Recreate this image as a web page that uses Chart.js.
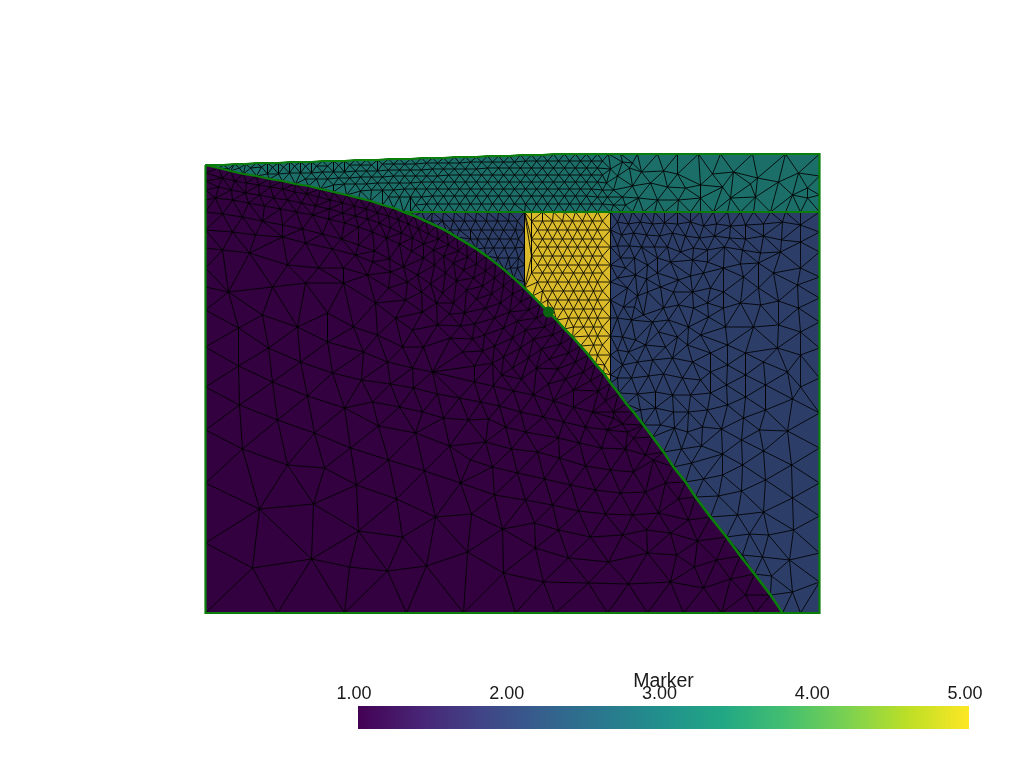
<!DOCTYPE html>
<html lang="en">
<head>
  <meta charset="UTF-8">
  <title>Marker mesh</title>
  <script src="https://cdn.jsdelivr.net/npm/chart.js"></script>
  <style>
    html, body { margin: 0; background: #fff; }
    #mesh { position: absolute; left: 0; top: 0; }
    #bar { position: absolute; left: 0; top: 660px; }
  </style>
</head>
<body>
<canvas id="mesh" width="1024" height="768"></canvas>
<canvas id="bar" width="1024" height="80"></canvas>
<script>
// node positions, flat x,y lists
const topEdge = [205,165,223,165,234,164,245,164,256,163,267,163,278,163,289,162,300,162,311,162,322,161,333,161,344,161,355,160,366,160,377,160,388,159,399,159,410,159,421,158,432,158,443,158,454,157,465,157,476,157,487,156,498,156,509,156,520,155,531,155,542,155,553,154,564,154,575,154,586,154,597,154,608,154,620,154,637,154,657,154,677,154,698,154,720,154,752,154,785,154,819,154];
const rightTop = [819,154,819,176,819,195,819,212];
const rightLow = [819,212,819,232,819,252,819,277,819,298,819,322,819,348,819,378,819,413,819,448,819,483,819,516,819,553,819,582,819,613];
const leftEdge = [205,165,205,173,205,181,205,190,205,200,205,212,205,230,205,248,205,268,205,287,205,310,205,347,205,387,205,430,205,483,205,543,205,613];
const bottomPurple = [205,613,277,613,344,613,406,613,463,613,515,613,555,613,607,613,647,613,683,613,721,613,755,613,782,613];
const bottomBlue = [782,613,800,613,819,613];
const baseLeft = [403,212,410,212,421,212,432,212,443,212,454,212,465,212,476,212,487,212,498,212,509,212,524,212];
const baseYellow = [524,212,531,212,542,212,553,212,564,212,575,212,586,212,597,212,610,212];
const baseRight = [610,212,621,212,632,212,643,212,654,212,664,212,677,212,690,212,700,212,713,212,727,212,740,212,753,212,770,212,785,212,800,212,819,212];
const column524 = [524,212,524,230,524,247,524,265,524,282,524,288];
const column610 = [610,212,610,230,610,247,610,265,610,282,610,300,610,318,610,336,610,355,610,375,610,383];
const curveBand = [205,165,218,168,230,171,243,174,256,176,269,179,282,181,295,184,308,186,320,189,333,192,346,195,358,198,370,201,382,205,393,208,403,212];
const curveBlueLeft = [403,212,414,216,425,221,436,226,446,231,456,237,466,243,476,249,486,256,495,263,504,270,513,278,524,288];
const curveYellow = [524,288,532,296,540,304,548,312,556,320,564,329,572,337,580,346,588,355,595,364,603,373,610,383];
const curveBlueRight = [610,383,618,393,626,404,633,412,643,425,652,437,663,452,673,467,685,482,695,497,710,517,726,537,740,556,754,574,770,595,782,613];

const bandNodes = [
  228,169,239,168,250,168,261,167,272,167,283,167,294,166,305,166,316,166,327,166,338,165,349,165,360,165,371,165,382,164,393,164,404,164,415,164,426,163,437,163,448,163,459,163,470,162,481,162,492,162,503,162,514,162,525,161,536,161,547,161,558,161,569,161,580,161,591,161,602,161,
  267,174,278,174,289,173,300,173,311,173,322,172,333,172,344,172,355,171,366,171,377,171,388,170,399,170,410,170,421,170,432,169,443,169,454,169,465,169,476,169,487,168,498,168,509,168,520,168,531,168,542,168,553,168,564,168,575,168,586,168,597,168,610,169,
  305,179,316,179,327,179,338,178,349,178,360,177,371,177,382,177,393,176,404,176,415,176,426,176,437,176,448,175,459,175,470,175,481,175,492,175,503,175,514,175,525,175,536,175,547,175,558,175,569,175,580,175,591,175,602,175,
  333,185,344,184,355,184,366,184,377,183,388,183,399,183,410,183,421,182,432,182,443,182,454,182,465,182,476,182,487,182,498,182,509,182,520,182,531,182,542,182,553,182,564,182,575,182,586,182,597,182,606,183,
  360,191,371,190,382,190,393,190,404,189,415,189,426,189,437,189,448,189,459,189,470,189,481,189,492,189,503,189,514,189,525,189,536,189,547,189,558,189,569,189,580,189,591,189,602,190,613,190,
  388,197,399,197,410,197,421,197,432,196,443,196,454,196,465,196,476,196,487,196,498,196,509,196,520,196,531,196,542,196,553,196,564,196,575,196,586,196,597,197,607,197,
  415,205,426,204,437,204,448,204,459,204,470,204,481,204,492,204,503,204,514,204,525,204,536,204,547,204,558,204,569,204,580,204,591,204,602,204,613,205,625,205,
  622,162,632,163,617,176,629,168,641,172,663,171,677,174,712,174,733,172,757,178,798,173,
  650,183,667,187,685,188,700,185,722,187,750,184,778,182,807,188,632,186,
  638,198,657,200,678,200,700,198,730,198,755,197,792,195,807,198,622,197
];

// yellow block: rows are y followed by the x of each node
const yellowRows = [
  [221,531,542,552,562,572,582,592,602],
  [230,537,547,557,567,577,587,597],
  [239,531,542,552,562,572,582,592,602],
  [247,537,547,557,567,577,587,597],
  [256,531,542,552,562,572,582,592,602],
  [265,537,547,557,567,578,588,597],
  [273,531,542,552,562,573,583,592,602],
  [282,537,547,557,568,578,588,597],
  [291,542,552,563,573,583,593,602],
  [300,547,557,568,578,588,597],
  [309,553,563,573,583,593,602],
  [318,568,578,588,597],
  [327,573,583,593,602],
  [336,588,597],
  [345,593,602],
  [355,597],
  [365,604]
];
const blueLeftRows = [
  [221,431,442,453,464,475,486,497,508,517],
  [230,450,459,470,481,492,503,515],
  [239,470,477,488,499,510,518],
  [248,484,493,504,515],
  [258,497,508,518],
  [268,510,517]
];
const blueRightNodes = [
  617,222,628,224,640,222,652,224,664,223,677,224,690,222,703,226,716,224,730,226,745,225,763,224,782,222,800,225,
  621,235,633,233,646,235,659,236,672,233,685,236,699,238,714,236,729,238,745,239,763,236,781,240,800,242,
  617,246,629,246,641,247,654,247,667,247,680,252,693,248,707,250,724,247,742,250,760,253,780,252,
  620,258,634,258,647,265,657,258,670,262,692,260,707,262,723,268,740,264,758,263,800,268,
  625,268,635,275,657,273,646,279,678,280,703,273,690,276,743,277,773,273,
  617,278,627,288,647,292,637,296,660,287,673,292,692,292,710,288,723,292,758,288,797,285,
  623,307,643,315,634,307,663,308,678,305,707,303,693,308,740,303,778,301,798,308,760,305,723,308,
  617,318,631,320,652,322,668,320,688,327,708,317,725,327,753,327,778,325,800,332,
  622,337,635,340,658,332,677,337,700,335,
  617,350,628,352,645,345,665,347,687,345,727,345,745,353,777,348,800,355,710,353,
  622,365,637,362,652,360,672,358,692,362,727,365,710,372,763,362,787,372,745,375,
  617,378,631,378,648,376,663,374,682,378,700,380,726,385,765,385,800,387,
  637,394,655,392,672,395,690,395,710,393,745,397,792,399,765,410,727,405,
  640,410,655,408,673,412,707,410,688,412,
  660,425,674,428,687,432,702,427,721,429,743,418,759,430,787,431,
  681,449,701,446,722,454,741,440,763,451,691,463,742,465,791,465,
  703,479,722,475,765,480,741,491,718,496,792,498,763,512,737,515,768,535,749,534,793,530,
  789,560,762,557,742,555,771,576,792,592
];
const purpleNodes = [
  // layers that follow the curve, spacing widens downward
  222,178,234,181,246,183,258,185,270,187,282,189,294,192,306,194,318,197,330,200,342,203,354,206,366,209,377,213,388,216,398,220,408,224,418,229,428,234,438,239,448,245,458,251,467,257,476,264,485,271,494,278,503,286,512,294,520,302,528,310,536,318,544,327,552,335,560,344,568,353,575,362,583,372,590,381,598,391,605,401,613,412,622,424,633,438,645,455,
  218,187,231,190,245,193,259,195,273,198,287,200,301,203,315,206,329,209,342,213,355,216,367,219,379,223,390,228,401,233,412,238,423,244,433,250,443,256,453,263,463,270,473,278,482,286,491,294,500,303,509,312,517,321,525,330,533,339,541,349,549,359,557,369,565,379,573,390,
  215,198,232,200,248,203,264,206,280,209,296,212,312,215,328,219,344,223,358,227,372,232,386,238,399,244,411,251,423,258,434,265,445,273,456,281,466,290,476,299,485,308,494,318,503,328,512,338,520,348,528,358,536,368,548,384,
  222,214,242,217,262,221,282,225,302,229,322,234,341,239,358,245,374,251,389,259,403,267,417,275,430,284,442,293,453,303,464,313,474,324,484,335,494,346,503,357,512,368,521,379,
  232,232,255,235,282,237,305,243,332,249,355,255,372,262,390,272,407,282,421,292,436,303,449,314,460,326,472,339,482,351,492,363,501,375,
  222,250,249,253,287,265,318,268,343,268,367,275,388,288,405,300,422,312,437,325,450,338,462,352,474,366,
  228,292,272,287,305,283,343,283,375,303,395,318,412,330,262,315,
  238,328,268,348,297,327,327,313,353,327,327,342,300,362,238,366,332,373,377,335,402,347,423,347,363,352,387,362,412,368,432,372,
  // lower left, coarse part
  239,405,277,420,314,433,350,448,388,460,424,471,460,483,494,495,
  242,449,287,465,324,468,356,485,396,499,435,517,471,514,502,529,
  259,509,313,504,358,531,402,537,467,552,
  252,568,311,559,349,567,387,571,426,566,503,573,
  272,382,307,396,344,408,372,402,399,407,422,412,443,418,468,420,488,419,505,427,520,412,
  378,426,415,433,449,446,485,442,511,449,492,467,517,473,470,460,
  361,380,390,384,413,388,437,394,459,398,480,402,499,406,513,391,493,386,474,382,
  // lower right part
  543,582,588,583,628,584,670,582,703,588,730,579,745,595,
  535,548,568,558,608,562,647,553,676,555,697,541,716,560,694,567,
  534,523,558,530,590,537,622,535,646,530,670,533,688,520,
  525,500,552,505,578,511,605,514,632,515,658,513,678,499,
  544,479,570,485,595,490,620,493,645,492,665,483,
  537,452,559,458,585,466,610,470,633,472,653,460,
  525,432,558,438,579,443,601,448,625,449,
  533,395,553,401,573,407,592,412,613,418,543,417,563,422,585,427,607,430,627,432
];

const tickValues = [1, 2, 3, 4, 5];
const colorStops = ['#440154', '#482475', '#414487', '#355f8d', '#2a788e', '#21918c', '#22a884', '#44bf70', '#7ad151', '#bddf26', '#fde725'];
const markerPoint = [{ x: 548, y: 312 }];

const purpleFill = '#33013f', blueFill = '#2c3e68', tealFill = '#1c6e69', yellowFill = '#dcbb2b';

function toPts(flat) {
  const out = [];
  for (let i = 0; i < flat.length; i += 2) out.push({ x: flat[i], y: flat[i + 1] });
  return out;
}
function rowsToPts(rows) {
  const out = [];
  rows.forEach(r => r.slice(1).forEach(x => out.push({ x: x, y: r[0] })));
  return out;
}
const rev = a => toPts(a).reverse();

const bandPoly = [...toPts(curveBand), ...toPts(baseLeft), ...toPts(baseYellow), ...toPts(baseRight), ...toPts(rightTop), ...rev(topEdge)];
const blueLeftPoly = [...toPts(baseLeft), ...toPts(column524), ...rev(curveBlueLeft)];
const yellowPoly = [...toPts(baseYellow), ...toPts(column610), ...rev(curveYellow)];
const blueRightPoly = [...toPts(baseRight), ...toPts(rightLow), ...rev(bottomBlue), ...rev(curveBlueRight), ...rev(column610)];
const purplePoly = [...toPts(leftEdge), ...toPts(bottomPurple), ...rev(curveBlueRight), ...rev(curveYellow), ...rev(curveBlueLeft), ...rev(curveBand)];

function inside(p, poly) {
  let c = false;
  for (let i = 0, j = poly.length - 1; i < poly.length; j = i++) {
    const a = poly[i], b = poly[j];
    if ((a.y > p.y) !== (b.y > p.y) && p.x < (b.x - a.x) * (p.y - a.y) / (b.y - a.y) + a.x) c = !c;
  }
  return c;
}

function circle(a, b, c) {
  const d = 2 * (a.x * (b.y - c.y) + b.x * (c.y - a.y) + c.x * (a.y - b.y));
  if (Math.abs(d) < 1e-9) return null;
  const A = a.x * a.x + a.y * a.y, B = b.x * b.x + b.y * b.y, C = c.x * c.x + c.y * c.y;
  const x = (A * (b.y - c.y) + B * (c.y - a.y) + C * (a.y - b.y)) / d;
  const y = (A * (c.x - b.x) + B * (a.x - c.x) + C * (b.x - a.x)) / d;
  return { x: x, y: y, r: (a.x - x) ** 2 + (a.y - y) ** 2 };
}

// mesh edges between the read nodes, kept only inside the region outline
function meshEdges(nodes, poly) {
  const seen = {};
  const pts = [...poly, ...nodes].filter(p => {
    const k = p.x + ',' + p.y;
    if (seen[k]) return false;
    seen[k] = 1;
    return true;
  });
  const s = [{ x: -1e5, y: -1e5 }, { x: 1e5, y: -1e5 }, { x: 0, y: 1e5 }];
  let tris = [{ v: s, c: circle(s[0], s[1], s[2]) }];
  pts.forEach(p => {
    const bad = [], keep = [];
    tris.forEach(t => ((p.x - t.c.x) ** 2 + (p.y - t.c.y) ** 2 < t.c.r ? bad : keep).push(t));
    const edges = [];
    bad.forEach(t => {
      for (let i = 0; i < 3; i++) {
        const a = t.v[i], b = t.v[(i + 1) % 3];
        const at = edges.findIndex(e => (e[0] === a && e[1] === b) || (e[0] === b && e[1] === a));
        if (at >= 0) edges.splice(at, 1); else edges.push([a, b]);
      }
    });
    tris = keep;
    edges.forEach(e => {
      const c = circle(e[0], e[1], p);
      if (c) tris.push({ v: [e[0], e[1], p], c: c });
    });
  });
  const out = [], done = new Set();
  const idx = new Map(pts.map((p, i) => [p, i]));
  tris.forEach(t => {
    if (t.v.some(p => s.includes(p))) return;
    const mid = { x: (t.v[0].x + t.v[1].x + t.v[2].x) / 3, y: (t.v[0].y + t.v[1].y + t.v[2].y) / 3 };
    if (!inside(mid, poly)) return;
    for (let i = 0; i < 3; i++) {
      const a = t.v[i], b = t.v[(i + 1) % 3];
      const k = Math.min(idx.get(a), idx.get(b)) + '-' + Math.max(idx.get(a), idx.get(b));
      if (done.has(k)) continue;
      done.add(k);
      out.push(a, b, { x: null, y: null });
    }
  });
  return out;
}

const meshLines = [
  ...meshEdges(toPts(bandNodes), bandPoly),
  ...meshEdges(rowsToPts(blueLeftRows), blueLeftPoly),
  ...meshEdges(rowsToPts(yellowRows), yellowPoly),
  ...meshEdges(toPts(blueRightNodes), blueRightPoly),
  ...meshEdges(toPts(purpleNodes), purplePoly)
];

const region = (poly, color) => ({ data: poly, showLine: true, fill: 'shape', backgroundColor: color, borderWidth: 0, pointRadius: 0, order: 3 });
const green = pts => ({ data: pts, showLine: true, fill: false, borderColor: '#0a7d0a', borderWidth: 2.2, pointRadius: 0, order: 1 });

new Chart(document.getElementById('mesh'), {
  type: 'scatter',
  data: {
    datasets: [
      region(purplePoly, purpleFill),
      region(blueLeftPoly, blueFill),
      region(blueRightPoly, blueFill),
      region(yellowPoly, yellowFill),
      region(bandPoly, tealFill),
      { data: meshLines, showLine: true, spanGaps: false, borderColor: 'rgba(0,0,0,0.85)', borderWidth: 1, pointRadius: 0, order: 2 },
      green(purplePoly),
      green([...toPts(topEdge), ...toPts(rightTop), ...toPts(rightLow), ...rev(bottomBlue)]),
      green(toPts(curveBlueLeft.concat(curveYellow, curveBlueRight))),
      green(toPts(baseLeft.concat(baseYellow, baseRight))),
      { data: markerPoint, pointRadius: 5.5, pointBackgroundColor: '#0a640f', pointBorderWidth: 0, order: 0 }
    ]
  },
  options: {
    responsive: false,
    animation: false,
    layout: { padding: 0, autoPadding: false },
    plugins: { legend: { display: false }, tooltip: { enabled: false } },
    scales: {
      // half a pixel in x so that upright mesh edges stay one pixel wide
      x: { type: 'linear', display: false, min: -0.5, max: 1023.5 },
      y: { type: 'linear', display: false, min: 0, max: 768, reverse: true }
    }
  }
});

new Chart(document.getElementById('bar'), {
  type: 'bar',
  data: {
    labels: ['Marker'],
    datasets: [{
      data: [[1, 5]],
      barPercentage: 1,
      categoryPercentage: 1,
      backgroundColor: ctx => {
        const area = ctx.chart.chartArea;
        if (!area) return colorStops[0];
        const g = ctx.chart.ctx.createLinearGradient(area.left, 0, area.right, 0);
        colorStops.forEach((c, i) => g.addColorStop(i / (colorStops.length - 1), c));
        return g;
      }
    }]
  },
  options: {
    indexAxis: 'y',
    responsive: false,
    animation: false,
    layout: { padding: { left: 358, right: 55, bottom: 11, top: 10 } },
    plugins: {
      legend: { display: false },
      tooltip: { enabled: false },
      // the axis box is capped at half the height, so the name goes in the chart title
      title: {
        display: true,
        text: 'Marker',
        fullSize: false,
        color: '#1a1a1a',
        font: { family: 'Liberation Sans', size: 19.5, weight: 'normal' },
        padding: { top: 0, bottom: -11 }
      }
    },
    scales: {
      y: { display: false },
      x: {
        type: 'linear',
        position: 'top',
        min: 1,
        max: 5,
        afterBuildTicks: axis => { axis.ticks = tickValues.map(v => ({ value: v })); },
        grid: { display: false, drawTicks: false },
        border: { display: false },
        ticks: {
          color: '#1a1a1a',
          font: { family: 'Liberation Sans', size: 18 },
          padding: 1,
          maxRotation: 0,
          autoSkip: false,
          labelOffset: -4,
          callback: v => v.toFixed(2)
        }
      }
    }
  }
});
</script>
</body>
</html>
